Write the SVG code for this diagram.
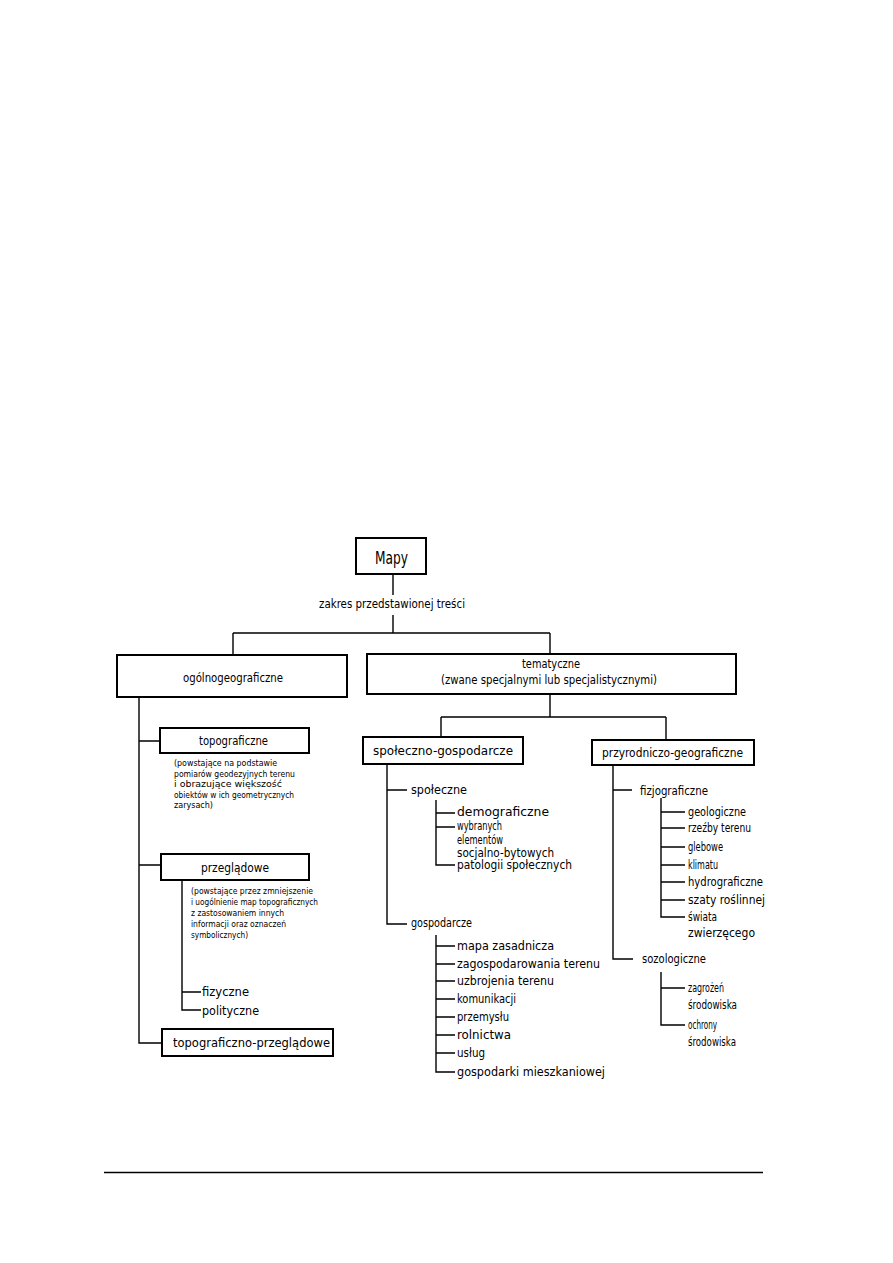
<svg xmlns="http://www.w3.org/2000/svg" width="893" height="1263" viewBox="0 0 893 1263">
<style>
.bg{fill:#ffffff}
.box{fill:#ffffff;stroke:#000;stroke-width:2}
.ln{fill:none;stroke:#000;stroke-width:1.4}
text{font-family:"DejaVu Sans Condensed","Liberation Sans",sans-serif;fill:#000}
.t{font-size:12px}
.n{font-size:9.5px}
.h{font-size:18px}
</style>
<rect class="bg" x="0" y="0" width="893" height="1263"/>
<g id="connectors">
<path class="ln" d="M393 574V595M393 615V633M233 633H550M233 633V655M550 633V654"/>
<path class="ln" d="M139 697V1043H162M139 741H160M139 865H161"/>
<path class="ln" d="M182 880V1010H201M182 992H201"/>
<path class="ln" d="M550 694V717M441 717H666M441 717V737M666 717V740"/>
<path class="ln" d="M387 764V924H407M387 790H407"/>
<path class="ln" d="M436 800V865H455M436 813H455M436 827H455"/>
<path class="ln" d="M436 935V1072H455M436 946H455M436 964H455M436 981H455M436 999H455M436 1017H455M436 1035H455M436 1053H455"/>
<path class="ln" d="M613 765V959H633M613 790H632"/>
<path class="ln" d="M661 798V917H685M661 812H685M661 828H685M661 847H685M661 865H685M661 882H685M661 900H685"/>
<path class="ln" d="M661 972V1025H685M661 988H685"/>
</g>
<g id="mapy">
<rect class="box" x="356" y="538" width="70" height="36"/>
<text class="h" x="375" y="564" textLength="33" lengthAdjust="spacingAndGlyphs">Mapy</text>
</g>
<g id="zakres">
<text class="t" x="319" y="608" textLength="146" lengthAdjust="spacingAndGlyphs">zakres przedstawionej treści</text>
</g>
<g id="ogolnogeograficzne">
<rect class="box" x="117" y="655" width="230" height="42"/>
<text class="t" x="183" y="682" textLength="100" lengthAdjust="spacingAndGlyphs">ogólnogeograficzne</text>
</g>
<g id="tematyczne">
<rect class="box" x="367" y="654" width="369" height="40"/>
<text class="t" x="522" y="668" textLength="58" lengthAdjust="spacingAndGlyphs">tematyczne</text>
<text class="t" x="441" y="684" textLength="216" lengthAdjust="spacingAndGlyphs">(zwane specjalnymi lub specjalistycznymi)</text>
</g>
<g id="topograficzne">
<rect class="box" x="160" y="728" width="149" height="25"/>
<text class="t" x="199" y="745" textLength="69" lengthAdjust="spacingAndGlyphs">topograficzne</text>
<text class="n" x="174" y="766" textLength="103" lengthAdjust="spacingAndGlyphs">(powstające na podstawie</text>
<text class="n" x="174" y="776.5" textLength="121" lengthAdjust="spacingAndGlyphs">pomiarów geodezyjnych terenu</text>
<text class="n" x="174" y="787" textLength="108" lengthAdjust="spacingAndGlyphs">i obrazujące większość</text>
<text class="n" x="174" y="797.5" textLength="120" lengthAdjust="spacingAndGlyphs">obiektów w ich geometrycznych</text>
<text class="n" x="174" y="808" textLength="39" lengthAdjust="spacingAndGlyphs">zarysach)</text>
</g>
<g id="przegladowe">
<rect class="box" x="161" y="854" width="148" height="26"/>
<text class="t" x="201" y="872" textLength="68" lengthAdjust="spacingAndGlyphs">przeglądowe</text>
<text class="n" x="191" y="894" textLength="122" lengthAdjust="spacingAndGlyphs">(powstające przez zmniejszenie</text>
<text class="n" x="191" y="905" textLength="127" lengthAdjust="spacingAndGlyphs">i uogólnienie map topograficznych</text>
<text class="n" x="191" y="916" textLength="93" lengthAdjust="spacingAndGlyphs">z zastosowaniem innych</text>
<text class="n" x="191" y="927" textLength="95" lengthAdjust="spacingAndGlyphs">informacji oraz oznaczeń</text>
<text class="n" x="191" y="938" textLength="57" lengthAdjust="spacingAndGlyphs">symbolicznych)</text>
</g>
<g id="fizyczne"><text class="t" x="202" y="996" textLength="47" lengthAdjust="spacingAndGlyphs">fizyczne</text></g>
<g id="polityczne"><text class="t" x="202" y="1015" textLength="57" lengthAdjust="spacingAndGlyphs">polityczne</text></g>
<g id="topograficzno-przegladowe">
<rect class="box" x="162" y="1029" width="171" height="27"/>
<text class="t" x="173" y="1047" textLength="157" lengthAdjust="spacingAndGlyphs">topograficzno-przeglądowe</text>
</g>
<g id="spoleczno-gospodarcze">
<rect class="box" x="363" y="737" width="160" height="27"/>
<text class="t" x="373" y="755" textLength="140" lengthAdjust="spacingAndGlyphs">społeczno-gospodarcze</text>
</g>
<g id="spoleczne">
<text class="t" x="411" y="794" textLength="56" lengthAdjust="spacingAndGlyphs">społeczne</text>
<text class="t" x="457" y="816" textLength="92" lengthAdjust="spacingAndGlyphs">demograficzne</text>
<text class="t" x="457" y="830" textLength="45" lengthAdjust="spacingAndGlyphs">wybranych</text>
<text class="t" x="457" y="844" textLength="46" lengthAdjust="spacingAndGlyphs">elementów</text>
<text class="t" x="457" y="857" textLength="97" lengthAdjust="spacingAndGlyphs">socjalno-bytowych</text>
<text class="t" x="457" y="869" textLength="115" lengthAdjust="spacingAndGlyphs">patologii społecznych</text>
</g>
<g id="gospodarcze">
<text class="t" x="411" y="927" textLength="61" lengthAdjust="spacingAndGlyphs">gospodarcze</text>
<text class="t" x="457" y="949.5" textLength="97" lengthAdjust="spacingAndGlyphs">mapa zasadnicza</text>
<text class="t" x="457" y="967.5" textLength="143" lengthAdjust="spacingAndGlyphs">zagospodarowania terenu</text>
<text class="t" x="457" y="984.5" textLength="97" lengthAdjust="spacingAndGlyphs">uzbrojenia terenu</text>
<text class="t" x="457" y="1002.5" textLength="59" lengthAdjust="spacingAndGlyphs">komunikacji</text>
<text class="t" x="457" y="1020.5" textLength="52" lengthAdjust="spacingAndGlyphs">przemysłu</text>
<text class="t" x="457" y="1038.5" textLength="54" lengthAdjust="spacingAndGlyphs">rolnictwa</text>
<text class="t" x="457" y="1056.5" textLength="28" lengthAdjust="spacingAndGlyphs">usług</text>
<text class="t" x="457" y="1075.5" textLength="148" lengthAdjust="spacingAndGlyphs">gospodarki mieszkaniowej</text>
</g>
<g id="przyrodniczo-geograficzne">
<rect class="box" x="592" y="740" width="162" height="25"/>
<text class="t" x="602" y="757" textLength="141" lengthAdjust="spacingAndGlyphs">przyrodniczo-geograficzne</text>
</g>
<g id="fizjograficzne">
<text class="t" x="640" y="795" textLength="68" lengthAdjust="spacingAndGlyphs">fizjograficzne</text>
<text class="t" x="688" y="815.5" textLength="58" lengthAdjust="spacingAndGlyphs">geologiczne</text>
<text class="t" x="688" y="831.5" textLength="63" lengthAdjust="spacingAndGlyphs">rzeźby terenu</text>
<text class="t" x="688" y="850.5" textLength="35" lengthAdjust="spacingAndGlyphs">glebowe</text>
<text class="t" x="688" y="868.5" textLength="30" lengthAdjust="spacingAndGlyphs">klimatu</text>
<text class="t" x="688" y="885.5" textLength="75" lengthAdjust="spacingAndGlyphs">hydrograficzne</text>
<text class="t" x="688" y="903.5" textLength="77" lengthAdjust="spacingAndGlyphs">szaty roślinnej</text>
<text class="t" x="688" y="920.5" textLength="29" lengthAdjust="spacingAndGlyphs">świata</text>
<text class="t" x="688" y="937" textLength="67" lengthAdjust="spacingAndGlyphs">zwierzęcego</text>
</g>
<g id="sozologiczne">
<text class="t" x="642" y="963" textLength="64" lengthAdjust="spacingAndGlyphs">sozologiczne</text>
<text class="t" x="688" y="992" textLength="36" lengthAdjust="spacingAndGlyphs">zagrożeń</text>
<text class="t" x="688" y="1009" textLength="49" lengthAdjust="spacingAndGlyphs">środowiska</text>
<text class="t" x="688" y="1029" textLength="29" lengthAdjust="spacingAndGlyphs">ochrony</text>
<text class="t" x="688" y="1046" textLength="48" lengthAdjust="spacingAndGlyphs">środowiska</text>
</g>
<g id="footer-rule">
<line x1="104" y1="1172.5" x2="763" y2="1172.5" stroke="#000" stroke-width="1.5"/>
</g>
</svg>
